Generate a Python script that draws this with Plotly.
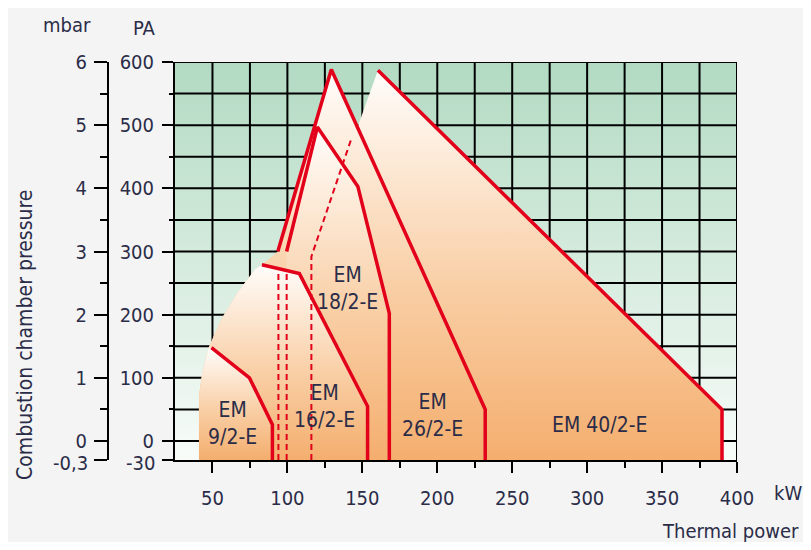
import plotly.graph_objects as go

# ---------------- data ----------------
x_range = [25, 400]
pa_range = [-30, 600]
mbar_range = [-0.3, 6]

x_ticks = [50, 100, 150, 200, 250, 300, 350, 400]
x_minor = [75, 125, 175, 225, 275, 325, 375]
pa_ticks = [-30, 0, 100, 200, 300, 400, 500, 600]
pa_labels = ["", "0", "100", "200", "300", "400", "500", "600"]
pa_minor = [50, 150, 250, 350, 450, 550]
mbar_ticks = [-0.3, 0, 1, 2, 3, 4, 5, 6]
mbar_labels = ["", "0", "1", "2", "3", "4", "5", "6"]
mbar_minor = [0.5, 1.5, 2.5, 3.5, 4.5, 5.5]
bottom_pa_label = "-30"
bottom_mbar_label = "-0,3"
grid_x = [50, 75, 100, 125, 150, 175, 200, 225, 250, 275, 300, 325, 350, 375, 400]
grid_pa = [0, 50, 100, 150, 200, 250, 300, 350, 400, 450, 500, 550, 600]

# left envelope shared by the small models (kW, PA)
env_kw = [41, 41, 43, 47.5, 56, 67, 78.5, 83]
env_pa = [-30, 70, 105, 148, 193, 236, 272, 279]

# EM 9/2-E
em9_kw = [49.3, 74.7, 90, 90]
em9_pa = [148, 100, 26, -30]
# EM 16/2-E
em16_kw = [83, 108, 153.5, 153.5]
em16_pa = [279, 265, 55, -30]
# EM 18/2-E
em18_kw = [99.5, 120, 147, 168, 168]
em18_pa = [300, 497, 403, 202, -30]
em18_dash_kw = [99.5, 99.5]
em18_dash_pa = [-30, 269]
# EM 26/2-E
em26_kw = [93.6, 129.3, 232, 232]
em26_pa = [300, 588, 50, -30]
em26_dash_kw = [94, 94]
em26_dash_pa = [-30, 273]
# EM 40/2-E
em40_left_kw = [116, 116]
em40_left_pa = [-30, 292]
em40_kw = [160.4, 390, 390]
em40_pa = [587, 50, -30]
em40_dash_kw = [116, 116, 142.6]
em40_dash_pa = [-30, 292, 478]

labels = ["EM<br>9/2-E", "EM<br>16/2-E", "EM<br>18/2-E", "EM<br>26/2-E", "EM 40/2-E"]
label_kw = [63.4, 124.8, 140.2, 197, 308.5]
label_pa = [27, 54, 242, 40, 25]

# ---------------- styles ----------------
RED = "#e2001a"
FONT = "DejaVu Sans Condensed, Liberation Sans Narrow, sans-serif"
TXT = "#2b2c48"
orange_scale = [[0, "#f4ae6e"], [0.45, "#f9cfa6"], [1, "#fffdfb"]]
green_scale = [[0, "#f8fcf9"], [1, "#b2dac2"]]

# page geometry: figure sits 8px inside the window
OFF = 8
W, H = 795, 534


def px(xp):
    return (xp - OFF) / W


def py(yp):
    return 1 - (yp - OFF) / H


fig = go.Figure()

# green background
fig.add_trace(go.Scatter(
    x=[x_range[0], x_range[1], x_range[1], x_range[0], x_range[0]],
    y=[pa_range[0], pa_range[0], pa_range[1], pa_range[1], pa_range[0]],
    mode="none", fill="toself",
    fillgradient=dict(type="vertical", colorscale=green_scale),
    hoverinfo="skip", showlegend=False))

# grid lines
gx, gy = [], []
for v in grid_x:
    gx += [v, v, None]
    gy += [pa_range[0], pa_range[1], None]
for v in grid_pa:
    gx += [x_range[0], x_range[1], None]
    gy += [v, v, None]
fig.add_trace(go.Scatter(x=gx, y=gy, mode="lines",
                         line=dict(color="#000000", width=2),
                         hoverinfo="skip", showlegend=False))


def region(kw, pa):
    fig.add_trace(go.Scatter(
        x=kw + [kw[0]], y=pa + [pa[0]], mode="none", fill="toself",
        fillgradient=dict(type="vertical", colorscale=orange_scale),
        hoverinfo="skip", showlegend=False))


# fills, back to front
region(em40_left_kw + em40_kw, em40_left_pa + em40_pa)
region(env_kw + em26_kw, env_pa + em26_pa)
region([em18_dash_kw[0]] + em18_kw, [em18_dash_pa[0]] + em18_pa)
region(env_kw + em16_kw[1:], env_pa + em16_pa[1:])
region(env_kw[:4] + em9_kw, env_pa[:4] + em9_pa)

# dashed hidden edges
for kw, pa in [(em26_dash_kw, em26_dash_pa), (em18_dash_kw, em18_dash_pa),
               (em40_dash_kw, em40_dash_pa)]:
    fig.add_trace(go.Scatter(x=kw, y=pa, mode="lines",
                             line=dict(color=RED, width=2, dash="6px,4px"),
                             hoverinfo="skip", showlegend=False))

# red outlines
for kw, pa in [(em40_kw, em40_pa), (em26_kw, em26_pa), (em18_kw, em18_pa),
               (em16_kw, em16_pa), (em9_kw, em9_pa)]:
    fig.add_trace(go.Scatter(x=kw, y=pa, mode="lines",
                             line=dict(color=RED, width=3.5),
                             hoverinfo="skip", showlegend=False))

# invisible trace for mbar axis
fig.add_trace(go.Scatter(x=[x_range[0]] * len(mbar_ticks), y=mbar_ticks, yaxis="y2",
                         mode="markers", marker=dict(opacity=0),
                         hoverinfo="skip", showlegend=False))

for t, xk, yp in zip(labels, label_kw, label_pa):
    fig.add_annotation(x=xk, y=yp, text=t, showarrow=False,
                       font=dict(family=FONT, size=21, color=TXT))


def note(x, y, text, xanchor="center", angle=0, size=20):
    fig.add_annotation(xref="paper", yref="paper", x=px(x), y=py(y), text=text,
                       xanchor=xanchor, yanchor="middle", textangle=angle,
                       showarrow=False, font=dict(family=FONT, size=size, color=TXT))


note(67, 25, "mbar")
note(144, 28, "PA")
note(788, 493, "kW")
note(801, 531, "Thermal power", xanchor="right")
note(25, 335, "Combustion chamber pressure", angle=-90, size=21)
note(157, 463, bottom_pa_label, xanchor="right")
note(90, 463, bottom_mbar_label, xanchor="right")

tickfont = dict(family=FONT, size=20, color=TXT)
fig.update_layout(
    width=W, height=H, autosize=False,
    margin=dict(l=0, r=0, t=0, b=0, pad=0),
    paper_bgcolor="#f4f4f4", plot_bgcolor="rgba(0,0,0,0)",
    showlegend=False,
    xaxis=dict(domain=[px(175), px(737)], range=x_range, showgrid=False, zeroline=False,
               automargin=False,
               tickvals=x_ticks, ticks="outside", ticklen=11, tickwidth=2, tickcolor="black",
               showline=True, linecolor="black", linewidth=2, tickfont=tickfont,
               ticklabelstandoff=8,
               minor=dict(tickvals=x_minor, ticks="outside", ticklen=6, tickwidth=2,
                          tickcolor="black", showgrid=False)),
    yaxis=dict(domain=[py(460), py(62)], range=pa_range, showgrid=False, zeroline=False,
               automargin=False,
               tickvals=pa_ticks, ticktext=pa_labels, ticks="outside", ticklen=11,
               tickwidth=2, tickcolor="black",
               showline=True, linecolor="black", linewidth=2, tickfont=tickfont,
               ticklabelstandoff=4,
               minor=dict(tickvals=pa_minor, ticks="outside", ticklen=4, tickwidth=2,
                          tickcolor="black", showgrid=False)),
    yaxis2=dict(overlaying="y", anchor="free", position=px(108), side="left",
                range=mbar_range, showgrid=False, zeroline=False, automargin=False,
                tickvals=mbar_ticks, ticktext=mbar_labels, ticks="outside", ticklen=13,
                tickwidth=2, tickcolor="black", showline=True, linecolor="black",
                linewidth=2, tickfont=tickfont, ticklabelstandoff=3,
                minor=dict(tickvals=mbar_minor, ticks="outside", ticklen=7, tickwidth=2,
                           tickcolor="black", showgrid=False)),
)

fig.write_html("out.html")
